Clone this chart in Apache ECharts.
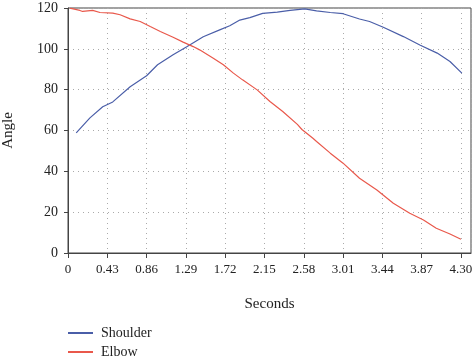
<!DOCTYPE html>
<html><head><meta charset="utf-8">
<script src="https://cdn.jsdelivr.net/npm/echarts@6/dist/echarts.min.js"></script>
<style>html,body{margin:0;padding:0;background:#fff}#c{width:474px;height:361px}</style>
</head><body><div id="c"></div>
<script>
const xTickLabels = ['0','0.43','0.86','1.29','1.72','2.15','2.58','3.01','3.44','3.87','4.30'];
const shoulderT = [0.09,0.24,0.38,0.49,0.68,0.86,0.98,1.15,1.30,1.48,1.66,1.77,1.88,1.99,2.13,2.29,2.43,2.59,2.72,2.87,3.01,3.19,3.30,3.45,3.67,3.85,4.04,4.18,4.31];
const shoulderV = [58.8,66.2,71.6,74.0,81.4,86.8,92.2,97.1,101.0,105.9,109.3,111.3,114.1,115.3,117.4,118.0,118.8,119.6,118.6,117.8,117.2,114.6,113.4,110.6,106.0,101.9,97.9,93.8,88.1];
const elbowT = [0.02,0.13,0.16,0.27,0.35,0.49,0.57,0.68,0.79,0.90,1.01,1.15,1.26,1.37,1.44,1.59,1.70,1.81,1.91,2.07,2.21,2.35,2.51,2.56,2.68,2.72,2.87,3.01,3.19,3.38,3.56,3.74,3.89,4.03,4.18,4.30];
const elbowV = [119.9,118.8,118.3,118.8,117.8,117.5,116.7,114.7,113.4,110.9,108.5,105.7,103.3,101.1,99.5,95.4,92.2,88.1,84.8,79.9,74.2,69.3,63.0,60.5,56.2,54.6,48.9,44.0,36.6,30.9,24.4,19.5,16.2,12.1,9.3,6.7];

const font = 'Liberation Serif';
const chart = echarts.init(document.getElementById('c'));
const pair = (t, v) => t.map((x, i) => [x, v[i]]);
chart.setOption({
  animation: false,
  grid: {left: 68, right: 3, top: 8, bottom: 108, show: true, borderColor: '#444', borderWidth: 1,
    containLabel: false, outerBoundsMode: 'none'},
  xAxis: {
    type: 'value', min: 0, max: 4.41, interval: 0.43,
    name: 'Seconds', nameLocation: 'middle', nameGap: 44,
    nameTextStyle: {fontFamily: font, fontSize: 15, color: '#222'},
    axisLine: {lineStyle: {color: '#444'}},
    axisTick: {show: true, length: 5, inside: false, lineStyle: {color: '#444'}},
    axisLabel: {fontFamily: font, fontSize: 13, color: '#222', margin: 10, showMaxLabel: false,
      formatter: v => { const i = Math.round(v / 0.43); return Math.abs(v - i * 0.43) < 1e-6 ? xTickLabels[i] : ''; }},
    splitLine: {show: true, lineStyle: {color: '#aaa', type: [1, 4], width: 1}}
  },
  yAxis: {
    type: 'value', min: 0, max: 120, interval: 20,
    name: 'Angle', nameLocation: 'middle', nameGap: 52, nameRotate: 90,
    nameTextStyle: {fontFamily: font, fontSize: 15, color: '#222'},
    axisLine: {show: true, lineStyle: {color: '#444'}},
    axisTick: {show: true, length: 4, lineStyle: {color: '#444'}},
    axisLabel: {fontFamily: font, fontSize: 14, color: '#222', margin: 10},
    splitLine: {show: true, lineStyle: {color: '#aaa', type: [1, 4], width: 1}}
  },
  legend: {
    orient: 'vertical', left: 68, top: 326, height: 40, padding: 0, itemWidth: 25, itemHeight: 2, itemGap: 5,
    icon: 'rect',
    textStyle: {fontFamily: font, fontSize: 14, color: '#222', padding: [0, 0, 0, 3]},
    data: ['Shoulder', 'Elbow']
  },
  series: [
    {name: 'Shoulder', type: 'line', data: pair(shoulderT, shoulderV), showSymbol: false, symbol: 'none',
      lineStyle: {color: '#4a5ea8', width: 1.2}, itemStyle: {color: '#4a5ea8'}},
    {name: 'Elbow', type: 'line', data: pair(elbowT, elbowV), showSymbol: false, symbol: 'none',
      lineStyle: {color: '#e9584b', width: 1.2}, itemStyle: {color: '#e9584b'}}
  ]
});
</script></body></html>
